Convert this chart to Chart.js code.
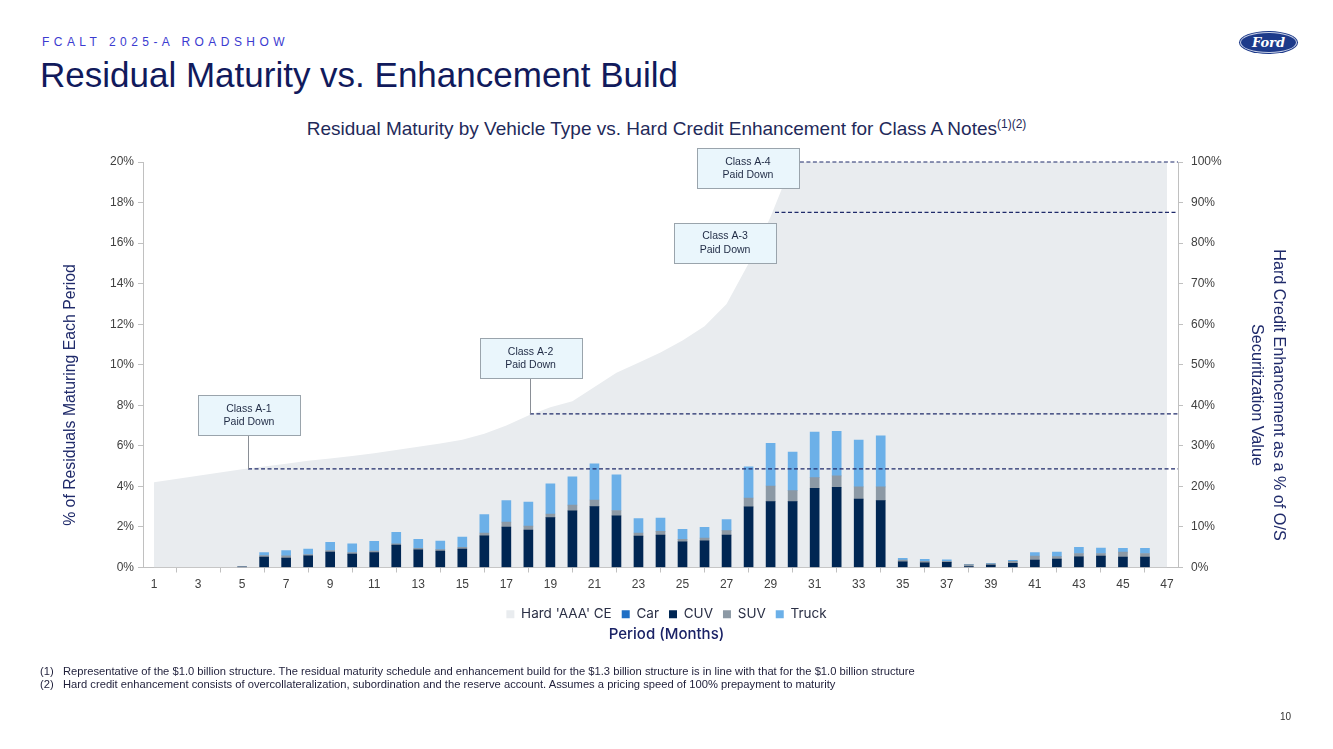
<!DOCTYPE html>
<html><head><meta charset="utf-8">
<script src="https://cdn.jsdelivr.net/npm/chart.js@4.4.1/dist/chart.umd.min.js"></script>
<style>
html,body{margin:0;padding:0;background:#fff;}
#wrap{position:relative;width:1333px;height:749px;overflow:hidden;font-family:"Liberation Sans",Arial,sans-serif;}
#c{position:absolute;left:0;top:0;}
.hdr{position:absolute;left:42px;top:35px;font-size:12px;letter-spacing:4.45px;color:#3b3bd0;white-space:nowrap;}
.ttl{position:absolute;left:40px;top:55px;font-size:35px;color:#111a5c;white-space:nowrap;}
.ctitle{position:absolute;left:0;width:1333px;top:118px;text-align:center;font-size:19px;color:#1f2a5a;white-space:nowrap;}
.ctitle sup{font-size:12px;vertical-align:7px;line-height:0;}
.xt{position:absolute;left:0;width:1333px;top:624px;text-align:center;font-family:Inter,sans-serif;font-size:15px;font-weight:500;color:#1a2266;}
.ltitle{position:absolute;left:-130px;top:385px;width:400px;height:20px;line-height:20px;text-align:center;transform:rotate(-90deg);font-size:15.8px;color:#1f2a6a;white-space:nowrap;}
.rtitle{position:absolute;left:1069px;top:373px;width:400px;height:44px;line-height:22px;text-align:center;transform:rotate(90deg);font-size:16.2px;color:#1f2a6a;white-space:nowrap;}
.fn{position:absolute;left:40px;font-size:11.2px;color:#1f1f3a;white-space:nowrap;}
.fn span{display:inline-block;width:23px;}
.pg{position:absolute;left:1280px;top:711px;font-size:10px;color:#333;}
.logo{position:absolute;left:1240px;top:32px;width:57px;height:21px;border-radius:50%;background:#1d3a8a;box-shadow:0 0 0 1px #c8d0e6 inset,0 0 0 1px #1d3a8a;color:#fff;font-family:"DejaVu Serif",serif;font-style:italic;font-weight:bold;font-size:13px;line-height:21px;text-align:center;}
</style></head>
<body><div id="wrap">
<div class="hdr">FCALT 2025-A ROADSHOW</div>
<div class="ttl">Residual Maturity vs. Enhancement Build</div>
<div class="logo">Ford</div>
<div class="ctitle">Residual Maturity by Vehicle Type vs. Hard Credit Enhancement for Class A Notes<sup>(1)(2)</sup></div>
<canvas id="c" width="1333" height="749"></canvas>
<div class="ltitle">% of Residuals Maturing Each Period</div>
<div class="rtitle">Hard Credit Enhancement as a % of O/S<br>Securitization Value</div>
<div class="xt">Period (Months)</div>
<div class="fn" style="top:665px"><span>(1)</span>Representative of the $1.0 billion structure. The residual maturity schedule and enhancement build for the $1.3 billion structure is in line with that for the $1.0 billion structure</div>
<div class="fn" style="top:678px"><span>(2)</span>Hard credit enhancement consists of overcollateralization, subordination and the reserve account. Assumes a pricing speed of 100% prepayment to maturity</div>
<div class="pg">10</div>
</div>
<script>
const periods = ['1','2','3','4','5','6','7','8','9','10','11','12','13','14','15','16','17','18','19','20','21','22','23','24','25','26','27','28','29','30','31','32','33','34','35','36','37','38','39','40','41','42','43','44','45','46','47'];
const hardCE = [21.0,21.8,22.6,23.4,24.2,24.9,25.6,26.3,26.9,27.5,28.2,29.0,29.8,30.6,31.5,33.0,35.0,37.5,39.5,41.0,44.5,48.0,50.5,53.0,56.0,59.5,65.0,75.0,86.5,100,100,100,100,100,100,100,100,100,100,100,100,100,100,100,100,100,100];
const car = [0,0,0,0,0,0,0,0,0,0,0,0,0,0,0,0,0,0,0,0,0,0,0,0,0,0,0,0,0,0,0,0,0,0,0,0,0,0,0,0,0,0,0,0,0,0,0];
const cuv = [0,0,0,0,0.03,0.51,0.46,0.58,0.76,0.66,0.74,1.10,0.87,0.81,0.91,1.56,1.99,1.85,2.46,2.79,3.00,2.55,1.55,1.60,1.27,1.32,1.60,2.99,3.25,3.25,3.91,3.96,3.37,3.30,0.28,0.23,0.26,0.05,0.12,0.21,0.36,0.41,0.53,0.56,0.51,0.51,0];
const suv = [0,0,0,0,0,0.08,0.12,0.06,0.08,0.08,0.07,0.07,0.08,0.07,0.09,0.14,0.25,0.19,0.18,0.29,0.33,0.26,0.15,0.18,0.12,0.13,0.22,0.44,0.77,0.54,0.52,0.56,0.61,0.68,0.08,0.08,0.05,0.09,0.06,0.10,0.20,0.13,0.16,0.13,0.25,0.18,0];
const truck = [0,0,0,0,0,0.15,0.26,0.27,0.40,0.43,0.48,0.56,0.44,0.42,0.50,0.91,1.06,1.19,1.49,1.39,1.78,1.76,0.71,0.66,0.49,0.53,0.54,1.54,2.10,1.90,2.25,2.20,2.31,2.51,0.09,0.09,0.07,0.02,0.02,0.04,0.17,0.22,0.31,0.27,0.18,0.25,0];
const leftTicks = [0,2,4,6,8,10,12,14,16,18,20];
const rightTicks = [0,10,20,30,40,50,60,70,80,90,100];

// callouts: box centre (period, right-axis %), dashed level (right-axis %), start period
const callouts = [
  {text:['Class A-1','Paid Down'], bx:5.31, by:37.5, level:24.3, from:5.27, connector:true},
  {text:['Class A-2','Paid Down'], bx:18.1, by:51.6, level:37.9, from:18.07, connector:true},
  {text:['Class A-3','Paid Down'], bx:26.93, by:80.0, level:87.6, from:29.2, connector:false},
  {text:['Class A-4','Paid Down'], bx:27.97, by:98.4, level:100, from:30.33, connector:false}
];

const calloutPlugin = {
  id:'callouts',
  afterDatasetsDraw(chart){
    const ctx = chart.ctx, xs = chart.scales.x, ys = chart.scales.y1, ca = chart.chartArea;
    const bw = 102, bh = 40;
    callouts.forEach(c=>{
      const lx = xs.getPixelForValue(c.from-1);
      const ly = ys.getPixelForValue(c.level);
      const cx = xs.getPixelForValue(c.bx-1);
      const cy = ys.getPixelForValue(c.by);
      ctx.save();
      ctx.strokeStyle = '#1f2a6a'; ctx.lineWidth = 1.2; ctx.setLineDash([4,2.5]);
      ctx.beginPath(); ctx.moveTo(lx, ly); ctx.lineTo(ca.right, ly); ctx.stroke();
      ctx.setLineDash([]);
      if (c.connector){
        ctx.strokeStyle = '#8a8f96'; ctx.lineWidth = 1;
        ctx.beginPath(); ctx.moveTo(Math.round(lx)+0.5, cy+bh/2); ctx.lineTo(Math.round(lx)+0.5, ly); ctx.stroke();
      }
      ctx.fillStyle = '#eaf6fc'; ctx.strokeStyle = '#9aa4ac'; ctx.lineWidth = 1;
      const x0 = Math.round(cx-bw/2)+0.5, y0 = Math.round(cy-bh/2)+0.5;
      ctx.fillRect(x0,y0,bw,bh); ctx.strokeRect(x0,y0,bw,bh);
      ctx.fillStyle = '#1f2a44'; ctx.font = '10.5px "Liberation Sans", Arial, sans-serif';
      ctx.textAlign = 'center'; ctx.textBaseline = 'middle';
      ctx.fillText(c.text[0], cx, cy-6.5);
      ctx.fillText(c.text[1], cx, cy+7);
      ctx.restore();
    });
  }
};

const nz = arr => arr.map(v => v === 0 ? null : v);
const tickFont = {family:'"Liberation Sans", Arial, sans-serif', size:12};
new Chart(document.getElementById('c'), {
  type:'bar',
  data:{
    labels: periods,
    datasets:[
      {type:'line', label:"Hard 'AAA' CE", data:hardCE, yAxisID:'y1', fill:'origin', backgroundColor:'#e9ecef', borderWidth:0, pointRadius:0, tension:0, order:2},
      {label:'Car', data:nz(car), backgroundColor:'#1f6fc5', stack:'v', yAxisID:'y', barThickness:9, order:1},
      {label:'CUV', data:nz(cuv), backgroundColor:'#002653', stack:'v', yAxisID:'y', barThickness:9, order:1},
      {label:'SUV', data:nz(suv), backgroundColor:'#8c99a5', stack:'v', yAxisID:'y', barThickness:9, order:1},
      {label:'Truck', data:nz(truck), backgroundColor:'#6cb0e8', stack:'v', yAxisID:'y', barThickness:9, order:1}
    ]
  },
  options:{
    responsive:false, animation:false,
    layout:{padding:{left:0,right:0,top:162,bottom:118}},
    plugins:{
      tooltip:{enabled:false},
      title:{display:false},
      legend:{position:'bottom', labels:{boxWidth:8, boxHeight:8, padding:10, color:'#2a2f45', font:{family:'Inter, sans-serif', size:13.5}, sort:(a,b)=>a.datasetIndex-b.datasetIndex}}
    },
    scales:{
      x:{stacked:true, offset:true,
        grid:{offset:true, drawOnChartArea:false, drawTicks:true, tickLength:5, color:'#c0c0c0'},
        border:{color:'#c0c0c0'},
        ticks:{autoSkip:false, maxRotation:0, padding:5, color:'#404040', font:tickFont,
          callback:(v,i)=> i%2===0 ? periods[i] : null},
        afterFit:s=>{s.height=30;}
      },
      y:{position:'left', stacked:true, min:0, max:20,
        afterBuildTicks:s=>{s.ticks = leftTicks.map(v=>({value:v}));},
        grid:{drawOnChartArea:false, tickLength:5, color:'#c0c0c0'},
        border:{color:'#c0c0c0'},
        ticks:{padding:4, color:'#404040', font:tickFont, callback:v=>v+'%'},
        afterFit:s=>{s.width=143;}
      },
      y1:{position:'right', min:0, max:100,
        afterBuildTicks:s=>{s.ticks = rightTicks.map(v=>({value:v}));},
        grid:{drawOnChartArea:false, tickLength:5, color:'#c0c0c0'},
        border:{color:'#c0c0c0'},
        ticks:{padding:8, color:'#404040', font:tickFont, callback:v=>v+'%'},
        afterFit:s=>{s.width=155;}
      }
    }
  },
  plugins:[calloutPlugin]
});
</script>
</body></html>
